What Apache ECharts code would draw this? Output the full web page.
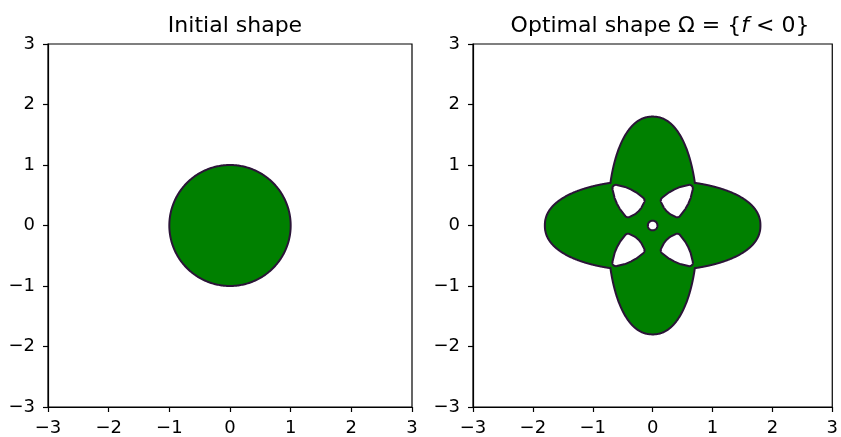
<!DOCTYPE html>
<html>
<head>
<meta charset="utf-8">
<script src="https://cdn.jsdelivr.net/npm/echarts@6/dist/echarts.min.js"></script>
<style>
  html, body { margin: 0; padding: 0; background: #fff; }
  #chart { width: 841px; height: 437px; }
</style>
</head>
<body>
<div id="chart"></div>
<script>
// ---- data ----
const axisRange = [-3, 3];
const tickStep = 1;
const titles = ['Initial shape', 'Optimal shape Ω = {', 'f', ' < 0}'];
// initial shape: disc
const initialCenter = [0, 0];
const initialRadius = 1;
// optimal shape: union of two lobes (horizontal & vertical)
const lobeSemiAxes = [1.8, 0.75];
const lobeExponent = 2.2;
// rounded-triangle holes (upper-left one; others are mirror images)
const holeVertices = [[-0.612, 0.612], [-0.195, 0.41], [-0.41, 0.195]];
const holeCornerRadius = 0.06;
const holeEdgeBulge = 0.035;
const centerHoleRadius = 0.08;

const FILL = '#008000';
const EDGE = '#2b1438';
const FONT = 'DejaVu Sans';

function circlePts(c, r, n) {
  const pts = [];
  for (let i = 0; i < n; i++) {
    const t = 2 * Math.PI * i / n;
    pts.push([c[0] + r * Math.cos(t), c[1] + r * Math.sin(t)]);
  }
  return pts;
}
function superR(th, a, b, n) {
  const c = Math.abs(Math.cos(th)), s = Math.abs(Math.sin(th));
  return 1 / Math.pow(Math.pow(c / a, n) + Math.pow(s / b, n), 1 / n);
}
function outerPts(n) {
  const [a, b] = lobeSemiAxes;
  const pts = [];
  for (let i = 0; i < n; i++) {
    const t = 2 * Math.PI * i / n;
    const r = Math.max(superR(t, a, b, lobeExponent), superR(t, b, a, lobeExponent));
    pts.push([r * Math.cos(t), r * Math.sin(t)]);
  }
  return pts;
}
function convexHull(points) {
  const p = points.slice().sort((u, v) => u[0] - v[0] || u[1] - v[1]);
  const cross = (o, a, b) => (a[0] - o[0]) * (b[1] - o[1]) - (a[1] - o[1]) * (b[0] - o[0]);
  const lower = [], upper = [];
  for (const q of p) {
    while (lower.length >= 2 && cross(lower[lower.length - 2], lower[lower.length - 1], q) <= 0) lower.pop();
    lower.push(q);
  }
  for (let i = p.length - 1; i >= 0; i--) {
    const q = p[i];
    while (upper.length >= 2 && cross(upper[upper.length - 2], upper[upper.length - 1], q) <= 0) upper.pop();
    upper.push(q);
  }
  upper.pop(); lower.pop();
  return lower.concat(upper);
}
function roundedTri(v, r, bulge) {
  const g = [(v[0][0] + v[1][0] + v[2][0]) / 3, (v[0][1] + v[1][1] + v[2][1]) / 3];
  const centers = v.slice();
  for (let i = 0; i < 3; i++) {
    const a = v[i], b = v[(i + 1) % 3];
    for (const f of [0.3, 0.5, 0.7]) {
      const m = [a[0] + (b[0] - a[0]) * f, a[1] + (b[1] - a[1]) * f];
      const dx = b[0] - a[0], dy = b[1] - a[1], L = Math.hypot(dx, dy);
      let nx = -dy / L, ny = dx / L;
      if ((m[0] - g[0]) * nx + (m[1] - g[1]) * ny < 0) { nx = -nx; ny = -ny; }
      const h = bulge * 4 * f * (1 - f);
      centers.push([m[0] + nx * h, m[1] + ny * h]);
    }
  }
  let pts = [];
  centers.forEach(c => { pts = pts.concat(circlePts(c, r, 90)); });
  return convexHull(pts);
}
const holes = [[1, 1], [-1, 1], [1, -1], [-1, -1]].map(([sx, sy]) =>
  roundedTri(holeVertices.map(([x, y]) => [x * sx, y * sy]), holeCornerRadius, holeEdgeBulge));

const fmt = v => (v < 0 ? '\u2212' + Math.abs(v) : String(v));

function axes(i, isX) {
  return {
    gridIndex: i, type: 'value', min: axisRange[0], max: axisRange[1], interval: tickStep,
    axisLine: { show: true, onZero: false, lineStyle: { color: '#000', width: 1.2 } },
    axisTick: { show: true, length: 5, lineStyle: { color: '#000', width: 1.2 } },
    axisLabel: { show: true, fontSize: 18, fontFamily: FONT, color: '#000', margin: isX ? 12 : 13, formatter: fmt, showMinLabel: true, showMaxLabel: true },
    splitLine: { show: false }
  };
}

const chart = echarts.init(document.getElementById('chart'), null, { renderer: 'canvas' });
chart.setOption({
  animation: false,
  backgroundColor: '#fff',
  title: [
    { text: titles[0], left: 230, top: 10, textAlign: 'center',
      textStyle: { fontFamily: FONT, fontSize: 22, fontWeight: 'normal', color: '#000' } },
    { text: titles[1] + '{i|' + titles[2] + '}' + titles[3], left: 655, top: 10, textAlign: 'center',
      textStyle: { fontFamily: FONT, fontSize: 22, fontWeight: 'normal', color: '#000',
        rich: { i: { fontFamily: FONT, fontSize: 22, fontStyle: 'italic', color: '#000' } } } }
  ],
  grid: [
    { left: 48, top: 44, width: 364, height: 364, show: true, borderColor: '#000', borderWidth: 1.2, backgroundColor: '#fff' },
    { left: 473, top: 44, width: 364, height: 364, show: true, borderColor: '#000', borderWidth: 1.2, backgroundColor: '#fff' }
  ],
  xAxis: [axes(0, true), axes(1, true)],
  yAxis: [axes(0, false), axes(1, false)],
  series: [
    {
      type: 'custom', xAxisIndex: 0, yAxisIndex: 0, data: [initialCenter], encode: { x: 0, y: 1 },
      renderItem: (params, api) => ({
        type: 'polygon',
        shape: { points: circlePts(initialCenter, initialRadius, 360).map(p => api.coord(p)) },
        style: { fill: FILL, stroke: EDGE, lineWidth: 2 }
      })
    },
    {
      type: 'custom', xAxisIndex: 1, yAxisIndex: 1, data: [[0, 0]], encode: { x: 0, y: 1 },
      renderItem: (params, api) => {
        const children = [{
          type: 'polygon',
          shape: { points: outerPts(1440).map(p => api.coord(p)) },
          style: { fill: FILL, stroke: EDGE, lineWidth: 2 }
        }];
        holes.forEach(h => children.push({
          type: 'polygon', shape: { points: h.map(p => api.coord(p)) },
          style: { fill: '#fff', stroke: EDGE, lineWidth: 2 }
        }));
        children.push({
          type: 'polygon', shape: { points: circlePts([0, 0], centerHoleRadius, 72).map(p => api.coord(p)) },
          style: { fill: '#fff', stroke: EDGE, lineWidth: 2 }
        });
        return { type: 'group', children };
      }
    }
  ]
});
</script>
</body>
</html>
